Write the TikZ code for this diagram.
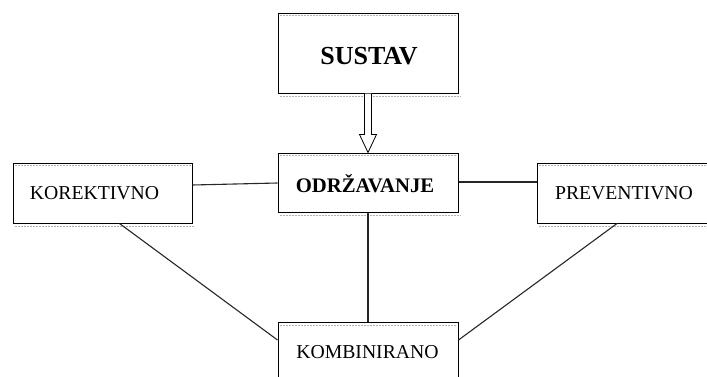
\documentclass[tikz,border=0pt]{standalone}
\usepackage{fontspec}
\setmainfont{Liberation Serif}
\usetikzlibrary{calc}
\tikzset{
  box/.style={draw=black, line width=1pt, fill=white, inner sep=0pt},
  link/.style={draw=black!85, line width=1.1pt},
  shade/.style={draw=black!30, line width=1pt, dash pattern=on 2pt off 1pt}
}
\begin{document}
\begin{tikzpicture}[x=1pt,y=1pt]
\useasboundingbox (0,0) rectangle (707,376);
\clip (0,0) rectangle (707,376);
% boxes (y measured from bottom: 376 - y_image)
\node[box, minimum width=180pt, minimum height=80pt] (sus) at (368,323) {};
\node[box, minimum width=180pt, minimum height=59pt] (odr) at (368,193.5) {};
\node[box, minimum width=179pt, minimum height=60pt] (kor) at (102.5,183) {};
\node[box, minimum width=172pt, minimum height=60pt, anchor=west] (pre) at (537,183) {};
\node[box, minimum width=180pt, minimum height=80pt, anchor=north] (kom) at (368,54) {};
% light shading lines inside top and below boxes
\foreach \n in {sus,odr,kor,pre,kom}{
  \draw[shade] ($(\n.north west)+(2,-3)$) -- ($(\n.north east)+(-2,-3)$);
  \draw[shade] ($(\n.south west)+(2,-3)$) -- ($(\n.south east)+(2,-3)$);
}
% texts
\node[font=\bfseries\fontsize{26}{30}\selectfont] (tsus) at (369,320) {SUSTAV};
\node[font=\bfseries\fontsize{20.7}{24}\selectfont] (todr) at (365,192.5) {ODRŽAVANJE};
\node[font=\fontsize{19.7}{23}\selectfont] (tkor) at (94.5,183) {KOREKTIVNO};
\node[font=\fontsize{19.7}{23}\selectfont] (tpre) at (624,183) {PREVENTIVNO};
\node[font=\fontsize{19.7}{23}\selectfont] (tkom) at (367.5,24) {KOMBINIRANO};
% hollow arrow SUSTAV -> ODRZAVANJE
\draw[line width=0.8pt, fill=white]
  ($(sus.south)+(-3.5,0)$) -- ($(odr.north)+(-3.5,18)$) -- ($(odr.north)+(-8.5,18)$)
  -- (odr.north) -- ($(odr.north)+(8.5,18)$) -- ($(odr.north)+(3.5,18)$)
  -- ($(sus.south)+(3.5,0)$);
% connectors
\draw[link] ($(kor.east)+(0,8)$) -- ($(odr.west)+(0,-0.5)$);
\draw[link] ($(odr.east)+(0,0.5)$) -- ($(pre.west)+(0,11)$);
\draw[link] (odr.south) -- (kom.north);
\draw[link] ($(kor.south west)+(107,0)$) -- ($(kom.north west)+(0,-18)$);
\draw[link] ($(pre.south west)+(80,0)$) -- ($(kom.north east)+(0,-18)$);
\end{tikzpicture}
\end{document}
